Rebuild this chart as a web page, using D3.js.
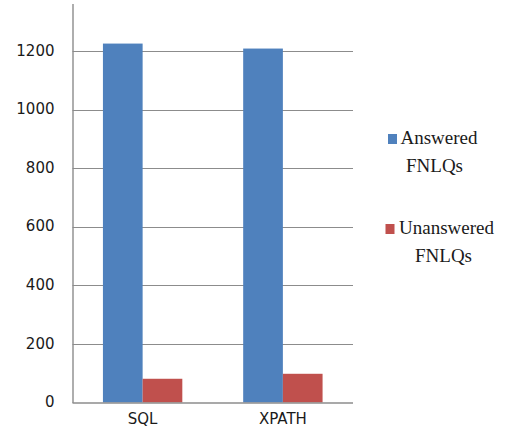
<!DOCTYPE html>
<html>
<head>
<meta charset="utf-8">
<script src="https://cdn.jsdelivr.net/npm/d3@7"></script>
<style>
  html, body { margin: 0; padding: 0; background: #fff; }
  svg { display: block; }
</style>
</head>
<body>
<svg id="chart" width="506" height="442"></svg>
<script>
// Query languages on the x axis
const categories = ["SQL", "XPATH"];
// Series names and counts per language
const seriesNames = ["Answered FNLQs", "Unanswered FNLQs"];
const answered = [1225, 1208];
const unanswered = [81, 98];
// Value axis ticks
const yTicks = [0, 200, 400, 600, 800, 1000, 1200];

const colors = ["#4F81BD", "#C0504D"];
const series = [answered, unanswered];

const svg = d3.select("#chart");

const x0 = 72.5, x1 = 353;
const yBase = 402.5, step200 = 58.6;

const x = d3.scaleBand().domain(categories).range([x0, x1]).paddingInner(0.434).paddingOuter(0.217);
const xs = d3.scaleBand().domain(d3.range(series.length)).range([0, x.bandwidth()]);
const y = d3.scaleLinear().domain([0, 1400]).range([yBase, yBase - 7 * step200]);

// clip so the value axis line starts a little below the top edge
svg.append("defs").append("clipPath").attr("id", "plotclip")
  .append("rect").attr("x", 0).attr("y", 4).attr("width", 506).attr("height", 442);

const plot = svg.append("g").attr("clip-path", "url(#plotclip)");

// gridlines
plot.append("g")
  .selectAll("line")
  .data(yTicks.filter(d => d > 0))
  .join("line")
  .attr("x1", x0).attr("x2", x1)
  .attr("y1", d => Math.round(y(d)) + 0.5).attr("y2", d => Math.round(y(d)) + 0.5)
  .attr("stroke", "#8c8c8c").attr("stroke-width", 1.2);

// bars
categories.forEach((cat, ci) => {
  series.forEach((vals, si) => {
    plot.append("rect")
      .attr("x", x(cat) + xs(si))
      .attr("y", y(vals[ci]))
      .attr("width", xs.bandwidth())
      .attr("height", y(0) - y(vals[ci]))
      .attr("fill", colors[si]);
  });
});

// value axis
const yAxis = plot.append("g")
  .attr("transform", `translate(${x0},0)`)
  .call(d3.axisLeft(y).tickValues(yTicks).tickSize(0).tickPadding(18).tickFormat(d3.format("d")));
yAxis.select(".domain").attr("stroke", "#8c8c8c").attr("stroke-width", 1.4);
yAxis.selectAll("text")
  .attr("font-family", "DejaVu Sans, sans-serif")
  .attr("font-size", 15)
  .attr("fill", "#1a1a1a")
  .attr("dy", "0.28em");

// category axis
const xAxis = svg.append("g")
  .attr("transform", `translate(0,${yBase})`)
  .call(d3.axisBottom(x).tickSize(0).tickPadding(18));
xAxis.select(".domain").attr("stroke", "#8c8c8c").attr("stroke-width", 1.4)
  .attr("d", `M${x0},0.5H${x1}`);
xAxis.selectAll("text")
  .attr("font-family", "DejaVu Sans, sans-serif")
  .attr("font-size", 15)
  .attr("fill", "#1a1a1a")
  .attr("dy", "0.2em");

// legend
const legendItems = [
  { name: seriesNames[0], color: colors[0], sx: 388, sy: 134, tx: 400.5, ty: 143.5, l2x: 406, l2y: 171.5 },
  { name: seriesNames[1], color: colors[1], sx: 385.5, sy: 224, tx: 399, ty: 233.5, l2x: 415, l2y: 262 }
];
const legend = svg.append("g");
legendItems.forEach(it => {
  const [w1, w2] = it.name.split(" ");
  legend.append("rect").attr("x", it.sx).attr("y", it.sy).attr("width", 9).attr("height", 10).attr("fill", it.color);
  legend.append("text").attr("x", it.tx).attr("y", it.ty)
    .attr("font-family", "Liberation Serif, Times New Roman, serif").attr("font-size", 19).attr("fill", "#1a1a1a")
    .text(w1);
  legend.append("text").attr("x", it.l2x).attr("y", it.l2y)
    .attr("font-family", "Liberation Serif, Times New Roman, serif").attr("font-size", 19).attr("fill", "#1a1a1a")
    .text(w2);
});
</script>
</body>
</html>
